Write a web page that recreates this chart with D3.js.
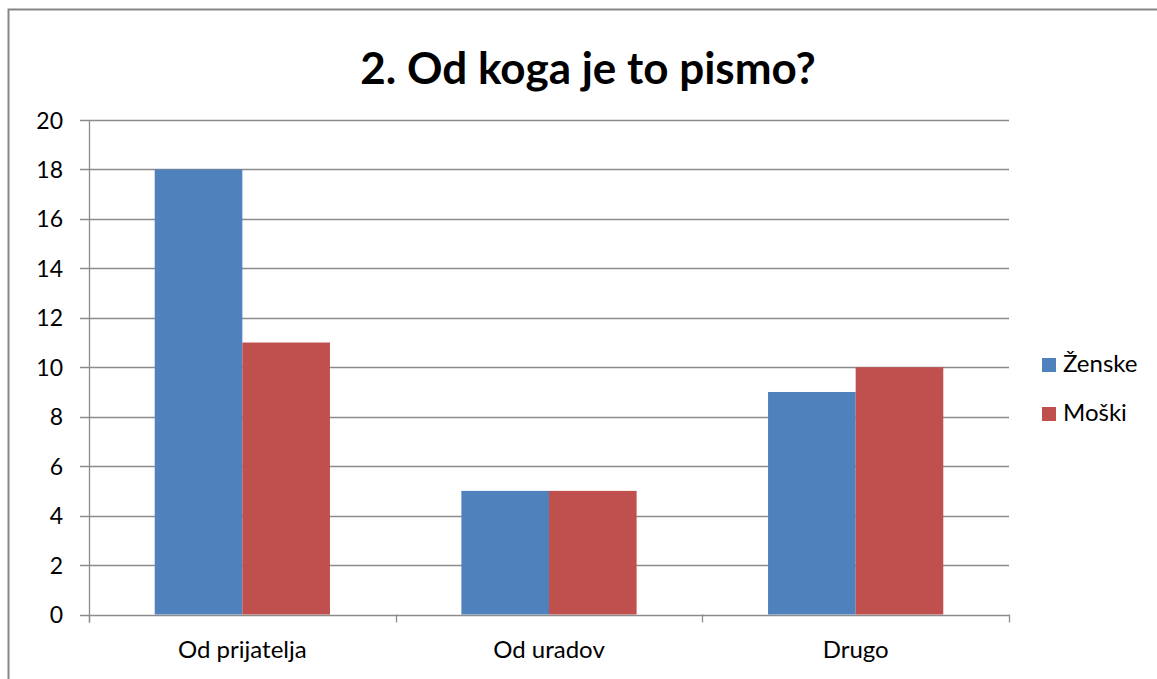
<!DOCTYPE html>
<html>
<head>
<meta charset="utf-8">
<script src="https://cdn.jsdelivr.net/npm/d3@7"></script>
<style>
  html, body { margin: 0; padding: 0; background: #fff; }
  svg { display: block; }
  text { font-family: Lato, "Open Sans", sans-serif; fill: #000; }
</style>
</head>
<body>
<div id="chart"></div>
<script>
const title = '2. Od koga je to pismo?';
const categories = ['Od prijatelja', 'Od uradov', 'Drugo'];
const seriesNames = ['Ženske', 'Moški'];
const zenske = [18, 5, 9];
const moski = [11, 5, 10];
const yTicks = [0, 2, 4, 6, 8, 10, 12, 14, 16, 18, 20];
const colors = ['#4F81BD', '#C0504D'];

const W = 1157, H = 679;
const plot = { left: 89, right: 1009, top: 120, bottom: 614.5 };

const svg = d3.select('#chart').append('svg')
    .attr('width', W)
    .attr('height', H);

// outer frame (only top and left visible in the crop)
svg.append('path')
    .attr('d', `M8.5,${H} V9.5 H${W}`)
    .attr('fill', 'none')
    .attr('stroke', '#868686')
    .attr('stroke-width', 2);

svg.append('text')
    .attr('x', 588)
    .attr('y', 84)
    .attr('text-anchor', 'middle')
    .style('font-size', '44px')
    .style('font-weight', 'bold')
    .text(title);

const x0 = d3.scaleBand()
    .domain(categories)
    .range([plot.left, plot.right])
    .paddingInner(0)
    .paddingOuter(0);

const x1 = d3.scaleBand()
    .domain(seriesNames)
    .range([0, x0.bandwidth()])
    .paddingInner(0)
    .paddingOuter(0.75);

const y = d3.scaleLinear()
    .domain([0, 20])
    .range([plot.bottom, plot.top]);

const gridColor = '#8c8c8c';

// gridlines
svg.append('g')
    .selectAll('line')
    .data(yTicks)
    .enter()
    .append('line')
    .attr('x1', plot.left - 9)
    .attr('x2', plot.right)
    .attr('y1', d => Math.round(y(d)) + 0.5)
    .attr('y2', d => Math.round(y(d)) + 0.5)
    .attr('stroke', gridColor)
    .attr('stroke-width', 1.3);

// y labels
svg.append('g')
    .selectAll('text')
    .data(yTicks)
    .enter()
    .append('text')
    .attr('x', 63)
    .attr('y', d => y(d) + 8.5)
    .attr('text-anchor', 'end')
    .style('font-size', '23px')
    .text(d => d);

// bars
const series = [zenske, moski];
const groups = svg.append('g')
    .selectAll('g')
    .data(categories)
    .enter()
    .append('g')
    .attr('transform', d => `translate(${x0(d)},0)`);

groups.selectAll('rect')
    .data((c, i) => seriesNames.map((s, j) => ({ s, v: series[j][i], j })))
    .enter()
    .append('rect')
    .attr('x', d => x1(d.s))
    .attr('width', x1.bandwidth())
    .attr('y', d => y(d.v))
    .attr('height', d => y(0) - y(d.v))
    .attr('fill', d => colors[d.j]);

// axes lines
svg.append('line')
    .attr('x1', plot.left + 0.5).attr('x2', plot.left + 0.5)
    .attr('y1', plot.top).attr('y2', plot.bottom + 8)
    .attr('stroke', gridColor).attr('stroke-width', 1.3);

const xTicks = d3.range(categories.length + 1).map(i => plot.left + i * x0.step());
svg.append('g')
    .selectAll('line')
    .data(xTicks)
    .enter()
    .append('line')
    .attr('x1', d => Math.round(d) + 0.5)
    .attr('x2', d => Math.round(d) + 0.5)
    .attr('y1', plot.bottom)
    .attr('y2', plot.bottom + 8)
    .attr('stroke', gridColor)
    .attr('stroke-width', 1.3);

// category labels
svg.append('g')
    .selectAll('text')
    .data(categories)
    .enter()
    .append('text')
    .attr('x', d => x0(d) + x0.bandwidth() / 2)
    .attr('y', 658)
    .attr('text-anchor', 'middle')
    .style('font-size', '24px')
    .text(d => d);

// legend
const legend = svg.append('g')
    .selectAll('g')
    .data(seriesNames)
    .enter()
    .append('g')
    .attr('transform', (d, i) => `translate(1042,${358 + i * 49})`);

legend.append('rect')
    .attr('width', 14)
    .attr('height', 14)
    .attr('fill', (d, i) => colors[i]);

legend.append('text')
    .attr('x', 21)
    .attr('y', 14)
    .style('font-size', '24px')
    .text(d => d);
</script>
</body>
</html>
